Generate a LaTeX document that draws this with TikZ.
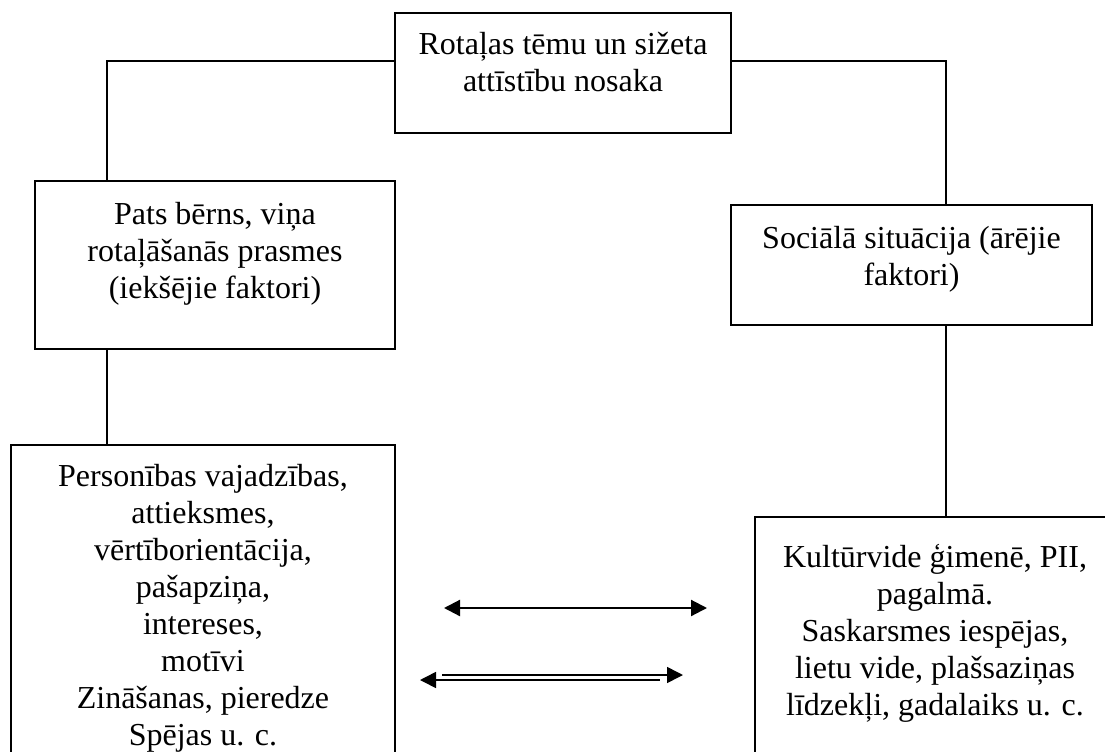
\documentclass[tikz,border=0pt]{standalone}
\usepackage{fontspec}
\setmainfont{Liberation Serif}
\usetikzlibrary{positioning,arrows.meta}
\tikzset{
  box/.style={draw, line width=0.8pt, inner sep=0pt},
  txt/.style={align=center, inner sep=0pt, font=\fontsize{16}{18.5}\selectfont},
  link/.style={line width=0.8pt},
  head/.tip={Triangle[length=8pt,width=8pt]}
}
\begin{document}
\begin{tikzpicture}[x=0.5pt,y=-0.5pt]
  \useasboundingbox (0,0) rectangle (1105,751);
  \clip (0,0) rectangle (1105,751);
  % boxes
  \node[box, minimum width=168pt, minimum height=60pt] (top) at (563,73) {};
  \node[box, minimum width=180pt, minimum height=84pt] (inner) at (215,265) {};
  \node[box, minimum width=180.5pt, minimum height=60pt] (outer) at (911.5,265) {};
  \node[box, minimum width=192pt, minimum height=180pt] (person) at (203,625) {};
  \node[box, minimum width=180pt, minimum height=160pt] (culture) at (935,677) {};
  % texts
  \node[txt, below=10pt of top.north] (toptext) {Rotaļas tēmu un sižeta\\attīstību nosaka};
  \node[txt, below=11pt of inner.north] (innertext) {Pats bērns, viņa\\rotaļāšanās prasmes\\(iekšējie faktori)};
  \node[txt, below=11pt of outer.north] (outertext) {Sociālā situācija (ārējie\\faktori)};
  \node[txt, below=10pt of person.north] (persontext) {Personības vajadzības,\\attieksmes,\\vērtīborientācija,\\pašapziņa,\\intereses,\\motīvi\\Zināšanas, pieredze\\Spējas u. c.};
  \node[txt, below=14pt of culture.north] (culturetext) {Kultūrvide ģimenē, PII,\\pagalmā.\\Saskarsmes iespējas,\\lietu vide, plašsaziņas\\līdzekļi, gadalaiks u. c.};
  % connectors
  \coordinate (lx) at (107,0);
  \coordinate (rx) at (946,0);
  \coordinate (hy) at (0,61);
  \draw[link] (top.west |- hy) -| (lx |- inner.north);
  \draw[link] (top.east |- hy) -| (rx |- outer.north);
  \draw[link] (lx |- inner.south) -- (lx |- person.north);
  \draw[link] (rx |- outer.south) -- (rx |- culture.north);
  % arrows
  \coordinate (a1) at (444,608);
  \coordinate (b1) at (707,608);
  \draw[line width=1.1pt, head-head] (a1) -- (b1);
  \coordinate (a2) at (442,675);
  \coordinate (b2) at (683,675);
  \coordinate (a3) at (420,680);
  \coordinate (b3) at (660,680);
  \draw[link, -head] (a2) -- (b2);
  \draw[link, head-] (a3) -- (b3);
\end{tikzpicture}
\end{document}
